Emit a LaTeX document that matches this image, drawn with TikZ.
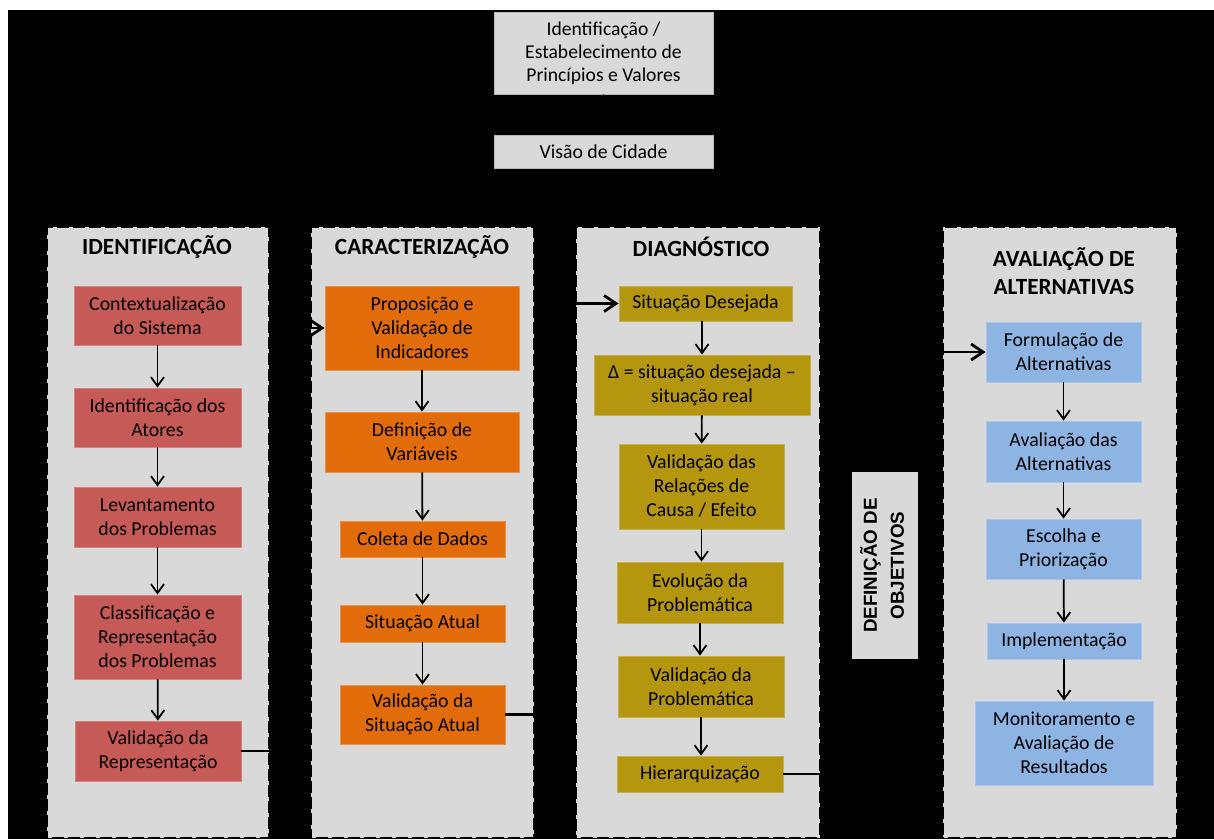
\documentclass[tikz,border=0pt]{standalone}
\usepackage{fontspec}
\usepackage{graphicx}
\setmainfont{Carlito}
\newfontfamily\arialfont{Liberation Sans}
\usetikzlibrary{arrows.meta}
\definecolor{pgrey}{HTML}{D9D9D9}
\definecolor{cred}{HTML}{C55A57}
\definecolor{corange}{HTML}{E36C0A}
\definecolor{cgold}{HTML}{B5960F}
\definecolor{cblue}{HTML}{8DB4E2}
\begin{document}
\begin{tikzpicture}[x=1pt,y=-1pt,
  box/.style={rectangle, inner sep=0pt, align=center, font=\fontsize{19.8}{24}\selectfont, line width=0.8pt},
  redbox/.style={box, fill=cred, draw=cred!75!white},
  orbox/.style={box, fill=corange, draw=corange!75!white},
  goldbox/.style={box, fill=cgold, draw=cgold!75!white},
  bluebox/.style={box, fill=cblue, draw=cblue!75!white},
  greybox/.style={box, fill=pgrey, draw=pgrey!85!black, line width=0.6pt},
  panel/.style={rectangle, fill=pgrey, draw=pgrey, line width=2pt, dash pattern=on 4pt off 12pt, inner sep=0pt},
  hdr/.style={inner sep=0pt, align=center, font=\fontsize{23.2}{28}\selectfont\bfseries},
  flow/.style={line width=1.8pt, -{Straight Barb[length=9pt,width=13pt]}},
  link/.style={line width=2.8pt, -{Straight Barb[length=12pt,width=16pt]}}]
\useasboundingbox (0,0) rectangle (1214,839);
\fill[white] (0,0) rectangle (1214,839);
\fill[black] (8,10) rectangle (1214,839);

% top boxes
\node[greybox, minimum width=219, minimum height=82, font=\fontsize{19.6}{23}\selectfont] (top) at (603.5,53) {Identificação /\\Estabelecimento de\\Princípios e Valores};
\node[greybox, minimum width=219, minimum height=33] (vis) at (603.5,151.5) {Visão de Cidade};
\draw[flow] (top) -- (vis);

% panels
\node[panel, minimum width=220, minimum height=609] (p1) at (158,532.5) {};
\node[panel, minimum width=221, minimum height=609] (p2) at (422.5,532.5) {};
\node[panel, minimum width=242, minimum height=609] (p3) at (698,532.5) {};
\node[panel, minimum width=232, minimum height=609] (p4) at (1060,532.5) {};

\node[hdr] (h1) at (157,247) {IDENTIFICAÇÃO};
\node[hdr] (h2) at (422,247) {CARACTERIZAÇÃO};
\node[hdr] (h3) at (701,247) {DIAGNÓSTICO};
\node[hdr] (h4) at (1064,271) {AVALIAÇÃO DE\\ALTERNATIVAS};

% Identificacao
\node[redbox, minimum width=167, minimum height=59] (c1) at (157.5,315.5) {Contextualização\\do Sistema};
\node[redbox, minimum width=167, minimum height=59] (c2) at (157.5,417.5) {Identificação dos\\Atores};
\node[redbox, minimum width=167, minimum height=60] (c3) at (157.5,517) {Levantamento\\dos Problemas};
\node[redbox, minimum width=167, minimum height=84] (c4) at (157.5,637) {Classificação e\\Representação\\dos Problemas};
\node[redbox, minimum width=166, minimum height=60] (c5) at (158,751) {Validação da\\Representação};
\draw[flow] (c1) -- (c2);
\draw[flow] (c2) -- (c3);
\draw[flow] (c3) -- (c4);
\draw[flow] (c4) -- (c5);

% Caracterizacao
\node[orbox, minimum width=194, minimum height=84] (o1) at (422,328) {Proposição e\\Validação de\\Indicadores};
\node[orbox, minimum width=194, minimum height=60] (o2) at (422,442) {Definição de\\Variáveis};
\node[orbox, minimum width=165, minimum height=36] (o3) at (422.5,539) {Coleta de Dados};
\node[orbox, minimum width=165, minimum height=37] (o4) at (422.5,623.5) {Situação Atual};
\node[orbox, minimum width=165, minimum height=59] (o5) at (422.5,714.5) {Validação da\\Situação Atual};
\draw[flow] (o1) -- (o2);
\draw[flow] (o2) -- (o3);
\draw[flow] (o3) -- (o4);
\draw[flow] (o4) -- (o5);

% Diagnostico
\node[goldbox, minimum width=173, minimum height=35] (g1) at (705.5,303.5) {Situação Desejada};
\node[goldbox, minimum width=216, minimum height=60] (g2) at (702,385) {Δ = situação desejada –\\situação real};
\node[goldbox, minimum width=165, minimum height=85] (g3) at (701.5,486.5) {Validação das\\Relações de\\Causa / Efeito};
\node[goldbox, minimum width=166, minimum height=61] (g4) at (700,592.5) {Evolução da\\Problemática};
\node[goldbox, minimum width=166, minimum height=61] (g5) at (701,686.5) {Validação da\\Problemática};
\node[goldbox, minimum width=166, minimum height=36] (g6) at (700,774) {Hierarquização};
\draw[flow] (g1.south -| g2) -- (g2);
\draw[flow] (g2) -- (g3);
\draw[flow] (g3) -- (g4.north -| g3);
\draw[flow] (g4) -- (g5.north -| g4);
\draw[flow] (g5) -- (g6.north -| g5);

% Definicao de objetivos
\node[greybox, draw=none, minimum width=66, minimum height=187] (def) at (885,565.5)
  {\rotatebox{90}{\arialfont\bfseries\fontsize{18.8}{27}\selectfont\begin{tabular}{@{}c@{}}DEFINIÇÃO DE\\OBJETIVOS\end{tabular}}};

% Avaliacao de alternativas
\node[bluebox, minimum width=155, minimum height=60] (b1) at (1063.5,352) {Formulação de\\Alternativas};
\node[bluebox, minimum width=155, minimum height=61] (b2) at (1063.5,451.5) {Avaliação das\\Alternativas};
\node[bluebox, minimum width=155, minimum height=60] (b3) at (1063.5,549) {Escolha e\\Priorização};
\node[bluebox, minimum width=154, minimum height=36] (b4) at (1064,641) {Implementação};
\node[bluebox, minimum width=178, minimum height=84] (b5) at (1064,743) {Monitoramento e\\Avaliação de\\Resultados};
\draw[flow] (b1) -- (b2);
\draw[flow] (b2) -- (b3);
\draw[flow] (b3) -- (b4);
\draw[flow] (b4) -- (b5);

% links between stages
\draw[link] (c5.east) -- ++(49,0) |- (o1.west);
\draw[link] (o5.east) -- ++(50,0) |- (g1.west);
\draw[link] (g6.east) -| (def.south);
\draw[link] (def.north) |- (b1.west);
\end{tikzpicture}
\end{document}
